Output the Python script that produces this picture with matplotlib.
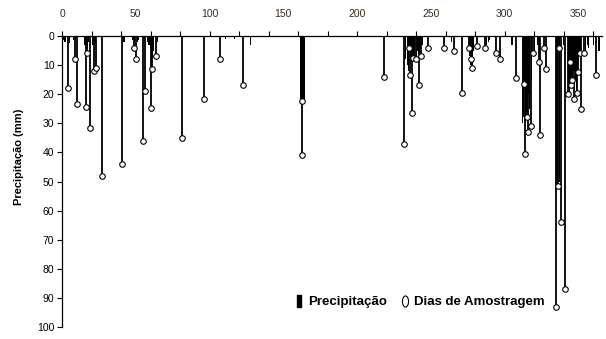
import matplotlib
matplotlib.use("Agg")
import matplotlib.pyplot as plt
from matplotlib.ticker import MultipleLocator
from matplotlib.lines import Line2D
from matplotlib.path import Path
from matplotlib.transforms import Affine2D

# precipitation (day of year, mm)
precip_days = [1, 2, 5, 8, 15, 16, 17, 18, 21, 22, 23, 42, 48, 49, 51, 52,
               58, 59, 60, 61, 62, 65, 111, 117, 128, 162, 163, 164,
               233, 234, 235, 236, 237, 238, 239, 240, 241, 242, 243, 244,
               259, 264, 276, 277, 278, 279, 288, 289, 290, 305,
               312, 313, 314, 315, 316, 317, 318, 320, 322, 323,
               335, 336, 337, 340, 343, 344, 345, 346, 347, 348, 349, 350,
               351, 355, 356, 357, 360, 364]
precip_mm = [1.5, 2, 2.5, 1.5, 3, 3, 4, 2, 3, 3, 2, 2, 1.5, 2, 2, 1.5,
             2, 3, 4, 8, 5, 2, 1, 1, 3, 22, 22, 22,
             8, 10, 12, 9, 7, 6, 8, 7, 5, 6, 4, 3,
             2, 2, 7, 10, 10, 5, 3, 2, 1.5, 3,
             30, 28, 30, 26, 20, 25, 15, 5, 3, 2,
             51, 51, 50, 3, 18, 20, 15, 16, 12, 15, 18, 10,
             5, 5, 3, 4, 3, 5]

# sampling days (day of year, accumulated mm)
sample_days = [4, 9, 10, 16, 17, 19, 22, 23, 27, 41, 49, 50, 55, 56, 60, 61,
               64, 81, 96, 107, 123, 163, 163, 218, 232, 235, 236, 237, 238,
               240, 242, 243, 248, 259, 266, 271, 276, 277, 278, 281, 287,
               294, 297, 308, 313, 314, 315, 316, 318, 319, 323, 324, 327,
               328, 335, 336, 337, 338, 341, 343, 344, 345, 346, 347, 349,
               350, 351, 352, 354, 362]
sample_mm = [18, 8, 23.5, 24.5, 6, 31.5, 12, 11, 48, 44, 4, 8, 36, 19, 24.7,
             11.5, 7, 35, 21.5, 8, 17, 22.5, 41, 14, 37, 4, 13.5, 26.5, 7.5,
             8, 17, 7, 4, 4, 5, 19.5, 4, 8, 11, 3.5, 4, 6, 8, 14.5, 16.5,
             40.5, 28, 33, 31, 6, 9, 34, 4, 11.5, 93, 51.5, 4, 64, 87, 20,
             9, 17, 15, 21.5, 19.5, 12.5, 6, 25, 6, 13.5]

x_labels = [0, 50, 100, 150, 200, 250, 300, 350]

plt.rcParams['font.family'] = ['Liberation Sans', 'DejaVu Sans']

fig = plt.figure(figsize=(6.06, 3.39), dpi=100)
ax = fig.add_axes([62 / 606, 12 / 339, 540 / 606, 291 / 339])

ax.bar(precip_days, precip_mm, width=0.75, color='black', zorder=2)
ax.vlines(sample_days, 0, sample_mm, color='black', lw=1.3, zorder=3)
ax.plot(sample_days, sample_mm, 'o', ms=4, mfc='white', mec='black',
        mew=0.8, zorder=4)

ax.set_xlim(0, 366)
ax.set_ylim(100, 0)
ax.xaxis.tick_top()
ax.xaxis.remove_overlapping_locs = False
ax.xaxis.set_minor_locator(MultipleLocator(20))
ax.set_xticks(x_labels)
ax.tick_params(axis='x', which='major', length=0, pad=12, labelsize=7.5,
               labelcolor='#3a2a1a')
ax.tick_params(axis='x', which='minor', length=3.5, width=0.8,
               direction='out', top=True, bottom=False)
ax.yaxis.set_major_locator(MultipleLocator(10))
ax.tick_params(axis='y', length=3.5, width=0.8, pad=2, labelsize=7.5)

for side in ['right', 'bottom']:
    ax.spines[side].set_visible(False)
ax.spines['top'].set_linewidth(0.9)
ax.spines['left'].set_linewidth(0.9)

ax.set_ylabel('Precipitação (mm)', fontsize=8, fontweight='bold')
ax.yaxis.set_label_coords(-0.07, 0.585)

bar_marker = Path([(-0.35, -1), (0.35, -1), (0.35, 1), (-0.35, 1), (-0.35, -1)],
                  [Path.MOVETO, Path.LINETO, Path.LINETO, Path.LINETO,
                   Path.CLOSEPOLY])
oval_marker = Path.unit_circle().transformed(Affine2D().scale(0.55, 1.0))
handles = [
    Line2D([], [], ls='none', marker=bar_marker, ms=9, mfc='black',
           mec='black'),
    Line2D([], [], ls='none', marker=oval_marker, ms=8, mfc='white',
           mec='black', mew=0.8),
]
ax.legend(handles, ['Precipitação', 'Dias de Amostragem'],
          loc='lower left', bbox_to_anchor=(288 / 606, 24 / 339),
          bbox_transform=fig.transFigure, frameon=False, ncol=2,
          handlelength=0.6, handletextpad=0.4, columnspacing=1.07,
          borderpad=0, prop={'weight': 'bold', 'size': 9.5})

fig.savefig('out.png', dpi=100)
